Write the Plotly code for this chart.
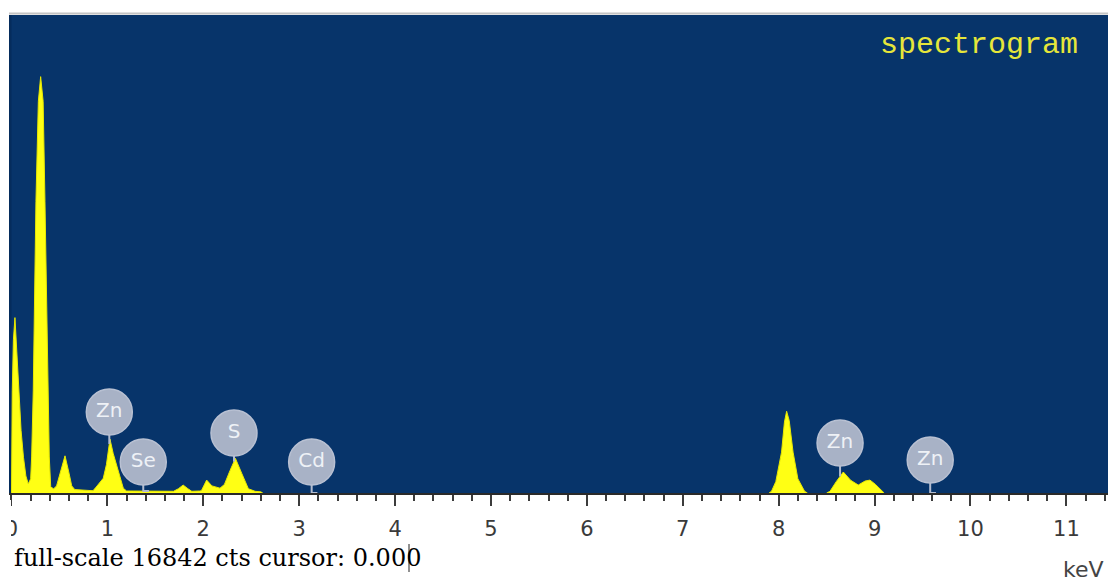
import numpy as np
import plotly.graph_objects as go

# ---- EDS spectrum samples (energy in keV, counts), one list per peak group ----
low_kev = [
    0.000, 0.008, 0.020, 0.036, 0.055, 0.080, 0.100, 0.125, 0.150, 0.175,
    0.200, 0.210, 0.227, 0.255, 0.280, 0.304, 0.330, 0.349, 0.384, 0.394, 0.409,
    0.440, 0.470, 0.510, 0.558, 0.600, 0.628, 0.660,
    0.850, 0.883, 0.957, 0.990, 1.027, 1.060, 1.114, 1.166, 1.200,
    1.690, 1.740, 1.790, 1.840, 1.880,
    1.960, 1.980, 2.035, 2.090, 2.174, 2.220, 2.280, 2.335, 2.400, 2.470, 2.540, 2.600, 2.620,
]
low_cts = [
    0, 3600, 5400, 6180, 5000, 3600, 2200, 1260, 600, 320,
    500, 1270, 3600, 10280, 13800, 14670, 13800, 10280, 3600, 1270, 210,
    150, 250, 700, 1310, 700, 250, 120,
    80, 210, 520, 1000, 1900, 1400, 800, 170, 70,
    60, 150, 280, 150, 60,
    70, 80, 455, 250, 170, 300, 800, 1220, 700, 150, 60, 40, 0,
]
cu_kev = [7.900, 7.925, 7.970, 8.000, 8.030, 8.060, 8.083, 8.110, 8.150, 8.200, 8.270, 8.300]
cu_cts = [0, 60, 400, 900, 1440, 2500, 2880, 2550, 1440, 500, 60, 0]
znk_kev = [8.500, 8.535, 8.600, 8.674, 8.750, 8.830, 8.900, 8.952, 9.010, 9.074, 9.100]
znk_cts = [0, 60, 400, 740, 450, 280, 420, 455, 300, 60, 0]

# ---- element line markers ----
element_names = ["Zn", "Se", "S", "Cd", "Zn", "Zn"]
element_kev = [1.02, 1.374, 2.32, 3.13, 8.64, 9.58]

full_scale_cts = 16842
tick_values = list(range(0, 12))
tick_labels = [str(v) for v in tick_values]
cursor_text = "full-scale 16842 cts cursor: 0.000"

# ---- layout geometry (pixels) ----
W, H = 1108, 581
M_L, M_R, M_T, M_B = 9, 0, 15, 88
PLOT_W = W - M_L - M_R
PLOT_H = H - M_T - M_B
X_RANGE = [-0.026, 11.434]
BUBBLE_PX = [81, 31, 60, 31, 50, 33]   # bubble centre height above baseline


def px_x(px):
    return (px - M_L) / PLOT_W


def px_y(py):
    return (H - M_B - py) / PLOT_H


def px_to_counts(h):
    return h / PLOT_H * full_scale_cts


all_kev = low_kev + cu_kev + znk_kev
all_cts = low_cts + cu_cts + znk_cts
bubble_cts = [px_to_counts(h) for h in BUBBLE_PX]
stem_end = np.interp(element_kev, all_kev, all_cts)

# stems (with a short foot where the stem lands on the baseline)
stem_x, stem_y = [], []
for e, top, end in zip(element_kev, bubble_cts, stem_end):
    stem_x += [e, e]
    stem_y += [top, end]
    if end < 200:
        stem_x += [e + 0.06]
        stem_y += [end]
    stem_x.append(None)
    stem_y.append(None)

fig = go.Figure()

for xs, ys in [(low_kev, low_cts), (cu_kev, cu_cts), (znk_kev, znk_cts)]:
    fig.add_trace(go.Scatter(
        x=xs, y=ys, mode="lines", fill="tozeroy",
        fillcolor="#ffff14", line=dict(color="#e8e800", width=1),
        hoverinfo="skip", showlegend=False,
    ))

fig.add_trace(go.Scatter(
    x=stem_x, y=stem_y, mode="lines",
    line=dict(color="#b3bccf", width=2),
    hoverinfo="skip", showlegend=False,
))

fig.add_trace(go.Scatter(
    x=element_kev, y=bubble_cts, mode="markers+text",
    text=element_names, textposition="middle center",
    textfont=dict(family="DejaVu Sans", size=20, color="#eef1f6"),
    marker=dict(size=46, color="#a8b2c6", line=dict(color="#b8c0d2", width=1.5)),
    hoverinfo="skip", showlegend=False,
))

fig.update_layout(
    width=W, height=H,
    margin=dict(l=M_L, r=M_R, t=M_T, b=M_B, pad=0),
    paper_bgcolor="white", plot_bgcolor="#07346a",
    showlegend=False,
    xaxis=dict(
        range=X_RANGE, tickmode="array", tickvals=tick_values, ticktext=tick_labels,
        ticks="outside", ticklen=11, tickwidth=2, tickcolor="#3c3c3c",
        ticklabelstandoff=5,
        showline=True, linecolor="#2a2a2a", linewidth=2,
        showgrid=False, zeroline=False,
        tickfont=dict(family="DejaVu Sans", size=21, color="#3a3a3a"),
        minor=dict(tick0=0, dtick=0.2, ticks="outside", ticklen=6, tickwidth=2,
                   tickcolor="#3c3c3c", showgrid=False),
    ),
    yaxis=dict(range=[0, full_scale_cts], visible=False, fixedrange=True),
    shapes=[
        # thin grey rule along the top of the plot window
        dict(type="line", xref="paper", yref="paper", x0=0, x1=1,
             y0=px_y(13.5), y1=px_y(13.5), line=dict(color="#c4c4c4", width=2)),
        # darker edge at the left border of the window
        dict(type="rect", xref="x", yref="y", x0=X_RANGE[0], x1=0.0,
             y0=0, y1=full_scale_cts, fillcolor="#052c5c", line=dict(width=0),
             layer="below"),
        # window edge clipping the first tick label
        dict(type="rect", xref="paper", yref="paper", x0=px_x(0), x1=px_x(11),
             y0=px_y(545), y1=px_y(500), fillcolor="white", line=dict(width=0),
             layer="above"),
        # text cursor in the status line
        dict(type="line", xref="paper", yref="paper", x0=px_x(409), x1=px_x(409),
             y0=px_y(572), y1=px_y(544), line=dict(color="#222222", width=1)),
    ],
    annotations=[
        dict(text="spectrogram", xref="paper", yref="paper",
             x=px_x(979), y=px_y(45), xanchor="center", yanchor="middle",
             showarrow=False,
             font=dict(family="Liberation Mono", size=30, color="#e6e63a")),
        dict(text=cursor_text, xref="paper", yref="paper",
             x=px_x(12), y=px_y(558), xanchor="left", yanchor="middle",
             showarrow=False,
             font=dict(family="DejaVu Serif", size=24, color="#000000")),
        dict(text="keV", xref="paper", yref="paper",
             x=px_x(1061), y=px_y(569), xanchor="left", yanchor="middle",
             showarrow=False,
             font=dict(family="DejaVu Sans", size=22, color="#444444")),
    ],
)

fig.write_html("out.html")
